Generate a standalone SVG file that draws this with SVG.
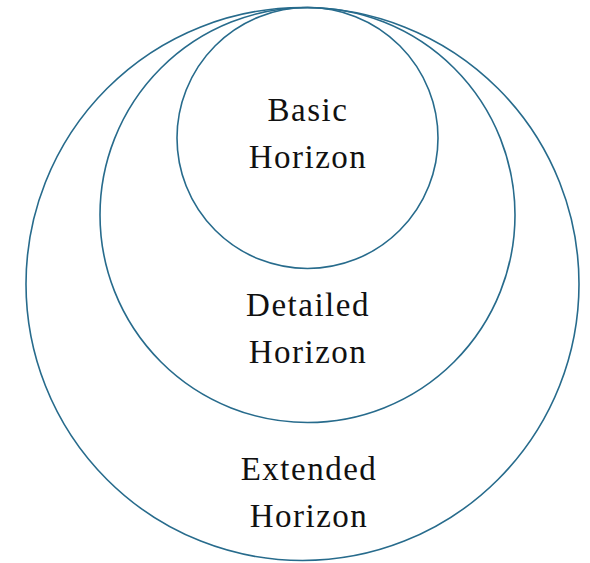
<svg xmlns="http://www.w3.org/2000/svg" width="590" height="563" viewBox="0 0 590 563">
<style>
.ring{fill:none;stroke:#276b8c;stroke-width:1.6}
.lbl{font-family:"Liberation Serif","DejaVu Serif",serif;font-size:33px;fill:#111;text-anchor:middle;letter-spacing:1.5px}
</style>
<rect width="590" height="563" fill="#fff"/>
<g id="extended">
<circle class="ring" cx="302.5" cy="284" r="276.5"/>
<text class="lbl" x="309" y="480">Extended</text>
<text class="lbl" x="309" y="527">Horizon</text>
</g>
<g id="detailed">
<circle class="ring" cx="307.5" cy="215" r="207.5"/>
<text class="lbl" x="308" y="316">Detailed</text>
<text class="lbl" x="308" y="363">Horizon</text>
</g>
<g id="basic">
<circle class="ring" cx="307.5" cy="138" r="130.5"/>
<text class="lbl" x="308" y="121">Basic</text>
<text class="lbl" x="308" y="168">Horizon</text>
</g>
<g id="connectors"></g>
</svg>
